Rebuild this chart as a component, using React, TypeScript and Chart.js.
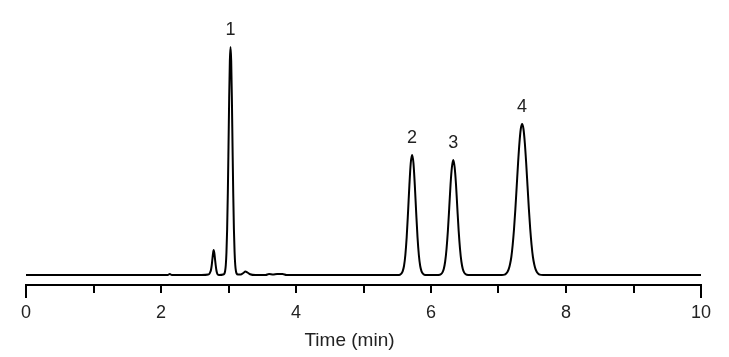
import React, { useEffect, useRef } from "react";
import { Chart, registerables } from "chart.js";

Chart.register(...registerables);

// Retention time (min) and detector signal
const time: number[] = [
  0, 1.0, 2.0, 2.10, 2.13, 2.16, 2.60, 2.70, 2.72, 2.73, 2.74, 2.75, 2.76, 2.77, 2.78, 2.79,
  2.80, 2.81, 2.82, 2.83, 2.84, 2.86, 2.92, 2.94, 2.95, 2.96, 2.97, 2.98, 2.99, 3.00,
  3.01, 3.02, 3.03, 3.04, 3.05, 3.06, 3.07, 3.08, 3.09, 3.10, 3.11, 3.12, 3.14, 3.18,
  3.22, 3.25, 3.28, 3.32, 3.40, 3.55, 3.60, 3.66, 3.72, 3.80, 3.86,
  5.50, 5.54, 5.56, 5.58, 5.60, 5.62, 5.64, 5.66, 5.68, 5.70, 5.72, 5.74, 5.76, 5.78,
  5.80, 5.82, 5.84, 5.86, 5.88, 5.90, 5.94,
  6.08, 6.13, 6.15, 6.17, 6.19, 6.21, 6.23, 6.25, 6.27, 6.29, 6.31, 6.33, 6.35, 6.37,
  6.39, 6.41, 6.43, 6.45, 6.47, 6.49, 6.51, 6.53, 6.58,
  7.05, 7.09, 7.11, 7.13, 7.15, 7.17, 7.19, 7.21, 7.23, 7.25, 7.27, 7.29, 7.31, 7.33,
  7.35, 7.37, 7.39, 7.41, 7.43, 7.45, 7.47, 7.49, 7.51, 7.53, 7.55, 7.57, 7.59, 7.61,
  7.66, 10,
];

const signal: number[] = [
  0, 0, 0, 0, 1, 0, 0, 0.5, 1.5, 3, 5, 9, 15, 21, 25, 22,
  16, 10, 5, 2, 0.6, 0, 0.5, 1.5, 4, 10, 23, 46, 82, 128,
  177, 214, 228, 214, 177, 128, 82, 46, 23, 10, 4, 1.5, 0.5, 0.5,
  2, 3.5, 2.5, 0.8, 0, 0, 1, 0.5, 1, 1, 0,
  0, 0.3, 1.3, 3.7, 9, 20, 38, 63, 90, 112, 120, 112, 90, 63,
  38, 20, 9, 3.7, 1.3, 0.3, 0,
  0, 0.3, 0.9, 2.6, 6.3, 13.5, 26, 44, 67, 91, 108, 115, 108, 91,
  67, 44, 26, 13.5, 6.3, 2.6, 0.9, 0.3, 0,
  0, 0.4, 1.3, 2.8, 5.6, 10.5, 18, 30, 46, 66, 89, 112, 132, 146,
  151, 146, 132, 112, 89, 66, 46, 30, 18, 10.5, 5.6, 2.8, 1.3, 0.4,
  0, 0,
];

// Peak annotations
const peakLabels: string[] = ["1", "2", "3", "4"];
const peakTimes: number[] = [3.03, 5.72, 6.33, 7.35];
const peakHeights: number[] = [228, 120, 115, 151];

// Axis
const xMin = 0;
const xMax = 10;
const xLabelStep = 2;
const xTitle = "Time (min)";

const FONT = '"Liberation Sans", Arial, sans-serif';

const annotPlugin = {
  id: "annot",
  afterDraw(chart: any) {
    const { ctx, chartArea } = chart;
    const x = chart.scales.x;
    const y = chart.scales.y;
    ctx.save();
    // longer end ticks
    ctx.strokeStyle = "#000";
    ctx.lineWidth = 2;
    for (const v of [xMin, xMax]) {
      const px = Math.round(x.getPixelForValue(v));
      ctx.beginPath();
      ctx.moveTo(px, chartArea.bottom);
      ctx.lineTo(px, chartArea.bottom + 13);
      ctx.stroke();
    }
    // peak labels
    ctx.fillStyle = "#222";
    ctx.textAlign = "center";
    ctx.textBaseline = "alphabetic";
    ctx.font = `18px ${FONT}`;
    peakLabels.forEach((l, i) => {
      ctx.fillText(l, x.getPixelForValue(peakTimes[i]), y.getPixelForValue(peakHeights[i]) - 12);
    });
    // axis title
    ctx.font = `19px ${FONT}`;
    ctx.fillText(xTitle, (chartArea.left + chartArea.right) / 2 - 14, chartArea.bottom + 61);
    ctx.restore();
  },
};

export default function App() {
  const ref = useRef<HTMLCanvasElement | null>(null);

  useEffect(() => {
    document.body.style.margin = "0";
    const canvas = ref.current;
    if (!canvas) return;
    const data = time.map((t, i) => ({ x: t, y: signal[i] }));
    const chart = new Chart(canvas, {
      type: "line",
      data: {
        datasets: [
          {
            data,
            borderColor: "#000",
            borderWidth: 2,
            pointRadius: 0,
            cubicInterpolationMode: "monotone",
            fill: false,
          },
        ],
      },
      options: {
        animation: false,
        responsive: false,
        maintainAspectRatio: false,
        layout: { padding: { left: 26, right: 28, top: 20, bottom: 0 } },
        plugins: { legend: { display: false }, tooltip: { enabled: false } },
        scales: {
          x: {
            type: "linear",
            min: xMin,
            max: xMax,
            afterFit: (scale: any) => {
              scale.height = 72;
            },
            ticks: {
              stepSize: 1,
              autoSkip: false,
              maxRotation: 0,
              padding: 9,
              color: "#222",
              font: { family: FONT, size: 18 },
              callback: (v: any) => (Number(v) % xLabelStep === 0 ? String(v) : ""),
            },
            grid: {
              display: true,
              drawOnChartArea: false,
              drawTicks: true,
              tickLength: 8,
              color: "#000",
              lineWidth: 2,
            },
            border: { display: true, color: "#000", width: 2 },
          },
          y: {
            type: "linear",
            display: false,
            min: -10,
            max: 255,
          },
        },
      },
      plugins: [annotPlugin],
    } as any);
    return () => chart.destroy();
  }, []);

  return (
    <div style={{ position: "absolute", left: 0, top: 0, width: 729, height: 357, background: "#fff" }}>
      <canvas ref={ref} width={729} height={357} style={{ width: 729, height: 357 }} />
    </div>
  );
}
